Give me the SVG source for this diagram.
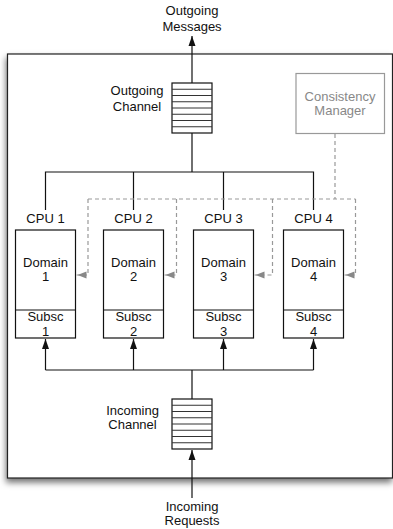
<svg xmlns="http://www.w3.org/2000/svg" width="393" height="529" viewBox="0 0 393 529">
<style>
text{font-family:"Liberation Sans",Arial,sans-serif;font-size:13px;fill:#111;text-anchor:middle}
.gray{fill:#888}
.box{fill:#fff;stroke:#111;stroke-width:1.2}
.line{fill:none;stroke:#111;stroke-width:1.2}
.dash{fill:none;stroke:#999;stroke-width:1.2;stroke-dasharray:4,3}
.stripe{stroke:#333;stroke-width:1}
</style>
<defs>
<filter id="sh" x="-10%" y="-10%" width="120%" height="120%">
<feDropShadow dx="-1" dy="4" stdDeviation="3" flood-color="#000" flood-opacity="0.55"/>
</filter>
<marker id="ab" markerUnits="userSpaceOnUse" markerWidth="10" markerHeight="8" refX="10" refY="4" orient="auto">
<path d="M0,0.5 L10,4 L0,7.5 z" fill="#111"/>
</marker>
<marker id="ag" markerUnits="userSpaceOnUse" markerWidth="10" markerHeight="8" refX="10" refY="4" orient="auto">
<path d="M0,0.5 L9,4 L0,7.5 z" fill="#888"/>
</marker>
</defs>
<g id="system">
<rect x="7.5" y="54" width="385" height="424" fill="#fff" stroke="#222" stroke-width="1.2" filter="url(#sh)"/>
</g>
<g id="outgoing-messages"><text x="192" y="15">Outgoing</text><text x="192" y="31">Messages</text></g>
<g id="outgoing-channel">
<rect class="box" x="172" y="83" width="40" height="50"/>
<path class="stripe" d="M172,89.25H212M172,95.5H212M172,101.75H212M172,108H212M172,114.25H212M172,120.5H212M172,126.75H212"/>
<text x="137" y="95">Outgoing</text><text x="137" y="111">Channel</text>
</g>
<g id="consistency-manager">
<rect x="296" y="73.5" width="88.5" height="60" fill="#fff" stroke="#999" stroke-width="1.2"/>
<text class="gray" x="340" y="101">Consistency</text><text class="gray" x="340" y="115">Manager</text>
</g>
<g id="cpu1">
<text x="45.5" y="222.5">CPU 1</text>
<rect class="box" x="15.5" y="230" width="60" height="108"/>
<line class="line" x1="15.5" y1="310" x2="75.5" y2="310"/>
<text x="45.5" y="266.5">Domain</text><text x="45.5" y="281">1</text>
<text x="45.5" y="321">Subsc</text><text x="45.5" y="336">1</text>
</g>
<g id="cpu2">
<text x="133.5" y="222.5">CPU 2</text>
<rect class="box" x="103.5" y="230" width="60" height="108"/>
<line class="line" x1="103.5" y1="310" x2="163.5" y2="310"/>
<text x="133.5" y="266.5">Domain</text><text x="133.5" y="281">2</text>
<text x="133.5" y="321">Subsc</text><text x="133.5" y="336">2</text>
</g>
<g id="cpu3">
<text x="223.5" y="222.5">CPU 3</text>
<rect class="box" x="193.5" y="230" width="60" height="108"/>
<line class="line" x1="193.5" y1="310" x2="253.5" y2="310"/>
<text x="223.5" y="266.5">Domain</text><text x="223.5" y="281">3</text>
<text x="223.5" y="321">Subsc</text><text x="223.5" y="336">3</text>
</g>
<g id="cpu4">
<text x="313.5" y="222.5">CPU 4</text>
<rect class="box" x="283.5" y="230" width="60" height="108"/>
<line class="line" x1="283.5" y1="310" x2="343.5" y2="310"/>
<text x="313.5" y="266.5">Domain</text><text x="313.5" y="281">4</text>
<text x="313.5" y="321">Subsc</text><text x="313.5" y="336">4</text>
</g>
<g id="incoming-channel">
<rect class="box" x="172" y="399" width="40" height="50"/>
<path class="stripe" d="M172,405.25H212M172,411.5H212M172,417.75H212M172,424H212M172,430.25H212M172,436.5H212M172,442.75H212"/>
<text x="132.5" y="415">Incoming</text><text x="132.5" y="429">Channel</text>
</g>
<g id="incoming-requests"><text x="192" y="511">Incoming</text><text x="192" y="525">Requests</text></g>
<g id="connectors">
<line class="line" x1="192" y1="83" x2="192" y2="36" marker-end="url(#ab)"/>
<path class="line" d="M192,133V172M45.5,210V172H313.5V210M133.5,172V210M223.5,172V210"/>
<path class="dash" d="M335,134V199M88,199H355.5"/>
<path class="dash" d="M88,199V275H76.5" marker-end="url(#ag)"/>
<path class="dash" d="M176.5,199V275H164.5" marker-end="url(#ag)"/>
<path class="dash" d="M272.5,199V275H254.5" marker-end="url(#ag)"/>
<path class="dash" d="M355.5,199V275H344.5" marker-end="url(#ag)"/>
<path class="line" d="M192,399V370M45.5,370H313.5"/>
<line class="line" x1="45.5" y1="370" x2="45.5" y2="339" marker-end="url(#ab)"/>
<line class="line" x1="133.5" y1="370" x2="133.5" y2="339" marker-end="url(#ab)"/>
<line class="line" x1="223.5" y1="370" x2="223.5" y2="339" marker-end="url(#ab)"/>
<line class="line" x1="313.5" y1="370" x2="313.5" y2="339" marker-end="url(#ab)"/>
<line class="line" x1="192" y1="498" x2="192" y2="450" marker-end="url(#ab)"/>
</g>
</svg>
